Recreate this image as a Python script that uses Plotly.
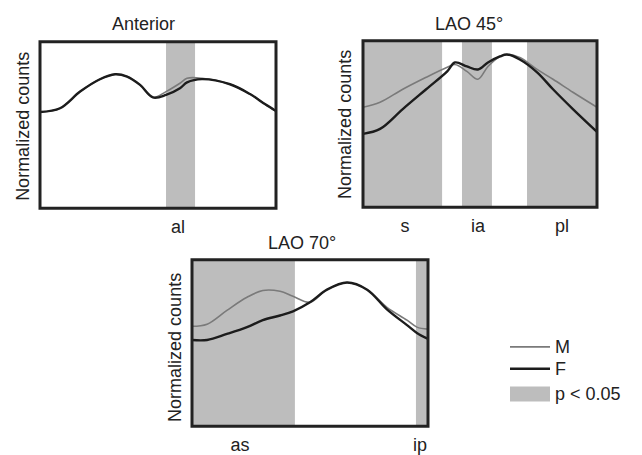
import plotly.graph_objects as go

# ---------------- data ----------------
ant_x = [0, 8.5, 17, 25.4, 31.8, 36.9, 42.4, 47.9, 53.4, 59.3, 62.3, 68.6, 80.5, 89, 95.3, 100]
ant_m = [0.577, 0.60, 0.70, 0.774, 0.804, 0.79, 0.74, 0.665, 0.70, 0.75, 0.78, 0.78, 0.744, 0.685, 0.625, 0.583]
ant_f = [0.577, 0.60, 0.70, 0.774, 0.804, 0.79, 0.74, 0.665, 0.68, 0.72, 0.755, 0.775, 0.744, 0.685, 0.625, 0.583]
ant_bands = [(53.4, 65.7)]
ant_ticks = [58.5]
ant_ticktext = ["al"]

l45_x = [0, 7.3, 17, 27, 36, 39.3, 44.4, 49.1, 53.4, 58.5, 61.5, 67, 74.4, 81.2, 89.7, 100]
l45_m = [0.60, 0.63, 0.708, 0.78, 0.84, 0.857, 0.815, 0.768, 0.845, 0.905, 0.917, 0.899, 0.827, 0.768, 0.69, 0.60]
l45_f = [0.44, 0.47, 0.589, 0.708, 0.815, 0.869, 0.845, 0.827, 0.869, 0.905, 0.917, 0.887, 0.81, 0.708, 0.589, 0.452]
l45_bands = [(0, 33.8), (42.3, 55.1), (70.1, 100)]
l45_ticks = [17.9, 49.1, 85]
l45_ticktext = ["s", "ia", "pl"]

l70_x = [0, 6.4, 14.8, 23.3, 30, 37.3, 42.8, 50, 57.2, 65.7, 74.2, 82.6, 91.1, 95.3, 100]
l70_m = [0.60, 0.613, 0.696, 0.774, 0.815, 0.81, 0.78, 0.744, 0.82, 0.863, 0.82, 0.714, 0.637, 0.595, 0.583]
l70_f = [0.518, 0.518, 0.554, 0.595, 0.637, 0.665, 0.69, 0.744, 0.82, 0.863, 0.82, 0.702, 0.607, 0.56, 0.524]
l70_bands = [(0, 43.6), (94.9, 100)]
l70_ticks = [20.3, 96.6]
l70_ticktext = ["as", "ip"]

titles = ["Anterior", "LAO 45°", "LAO 70°"]
legend_labels = ["M", "F", "p < 0.05"]

# ---------------- style ----------------
W, H = 642, 455
FONT = "Liberation Sans, Arial, sans-serif"
FS = 18
M_COLOR = "#7a7a7a"
F_COLOR = "#1c1c1c"
SHADE = "#bdbdbd"
FRAME = "#222222"

def px(x):
    return x / W

def py(y):
    return 1 - y / H

# panel boxes in pixels: (left, right, top, bottom)
boxes = [(40, 276, 42, 210), (363, 597, 41, 209), (192, 428, 262, 430)]
title_pos = [(143, 24), (469, 24), (302, 245)]
ylab_pos = [(23, 128), (345, 126), (175, 350)]

panels = [
    (ant_x, ant_m, ant_f, ant_bands, ant_ticks, ant_ticktext),
    (l45_x, l45_m, l45_f, l45_bands, l45_ticks, l45_ticktext),
    (l70_x, l70_m, l70_f, l70_bands, l70_ticks, l70_ticktext),
]

fig = go.Figure()
shapes = []
annotations = []

for i, (xs, ms, fs, bands, tv, tt) in enumerate(panels):
    n = "" if i == 0 else str(i + 1)
    xa, ya = "x" + n, "y" + n
    l, r, t, b = boxes[i]
    fig.add_trace(go.Scatter(x=xs, y=ms, mode="lines", xaxis=xa, yaxis=ya,
                             line=dict(color=M_COLOR, width=1.6, shape="spline", smoothing=1.0),
                             showlegend=False, hoverinfo="skip"))
    fig.add_trace(go.Scatter(x=xs, y=fs, mode="lines", xaxis=xa, yaxis=ya,
                             line=dict(color=F_COLOR, width=2.4, shape="spline", smoothing=1.0),
                             showlegend=False, hoverinfo="skip"))
    xkey = "xaxis" + n
    ykey = "yaxis" + n
    fig.update_layout({
        xkey: dict(domain=[px(l), px(r)], range=[0, 100], anchor=ya, showgrid=False,
                   zeroline=False, showline=False, tickvals=tv, ticktext=tt, ticks="",
                   ticklabelstandoff=6,
                   tickfont=dict(family=FONT, size=FS, color="#222")),
        ykey: dict(domain=[py(b), py(t)], range=[0, 1], anchor=xa, showgrid=False,
                   zeroline=False, showline=False, showticklabels=False, ticks=""),
    })
    for (x0, x1) in bands:
        shapes.append(dict(type="rect", xref=xa, yref=ya + " domain", x0=x0, x1=x1, y0=0, y1=1,
                           fillcolor=SHADE, line=dict(width=0), layer="below"))
    shapes.append(dict(type="rect", xref=xa + " domain", yref=ya + " domain", x0=0, x1=1, y0=0, y1=1,
                       line=dict(color=FRAME, width=3), fillcolor="rgba(0,0,0,0)", layer="above"))
    tx, ty = title_pos[i]
    annotations.append(dict(text=titles[i], x=px(tx), y=py(ty), xref="paper", yref="paper",
                            showarrow=False, xanchor="center", yanchor="middle",
                            font=dict(family=FONT, size=FS, color="#222")))
    lx, ly = ylab_pos[i]
    annotations.append(dict(text="Normalized counts", x=px(lx), y=py(ly), xref="paper", yref="paper",
                            showarrow=False, textangle=-90, xanchor="center", yanchor="middle",
                            font=dict(family=FONT, size=FS, color="#222")))

# legend (drawn manually)
leg_y = [350, 372, 397]
shapes.append(dict(type="line", xref="paper", yref="paper", x0=px(510), x1=px(550),
                   y0=py(leg_y[0]), y1=py(leg_y[0]), line=dict(color=M_COLOR, width=1.8)))
shapes.append(dict(type="line", xref="paper", yref="paper", x0=px(510), x1=px(550),
                   y0=py(leg_y[1]), y1=py(leg_y[1]), line=dict(color=F_COLOR, width=2.6)))
shapes.append(dict(type="rect", xref="paper", yref="paper", x0=px(510), x1=px(550),
                   y0=py(405), y1=py(390), fillcolor=SHADE, line=dict(width=0)))
for lab, yy in zip(legend_labels, leg_y):
    annotations.append(dict(text=lab, x=px(553), y=py(yy), xref="paper", yref="paper",
                            showarrow=False, xanchor="left", yanchor="middle",
                            font=dict(family=FONT, size=FS, color="#222")))

fig.update_layout(width=W, height=H, margin=dict(l=0, r=0, t=0, b=0),
                  paper_bgcolor="white", plot_bgcolor="white",
                  shapes=shapes, annotations=annotations, showlegend=False)

fig.write_html("out.html", config={"displayModeBar": False})
